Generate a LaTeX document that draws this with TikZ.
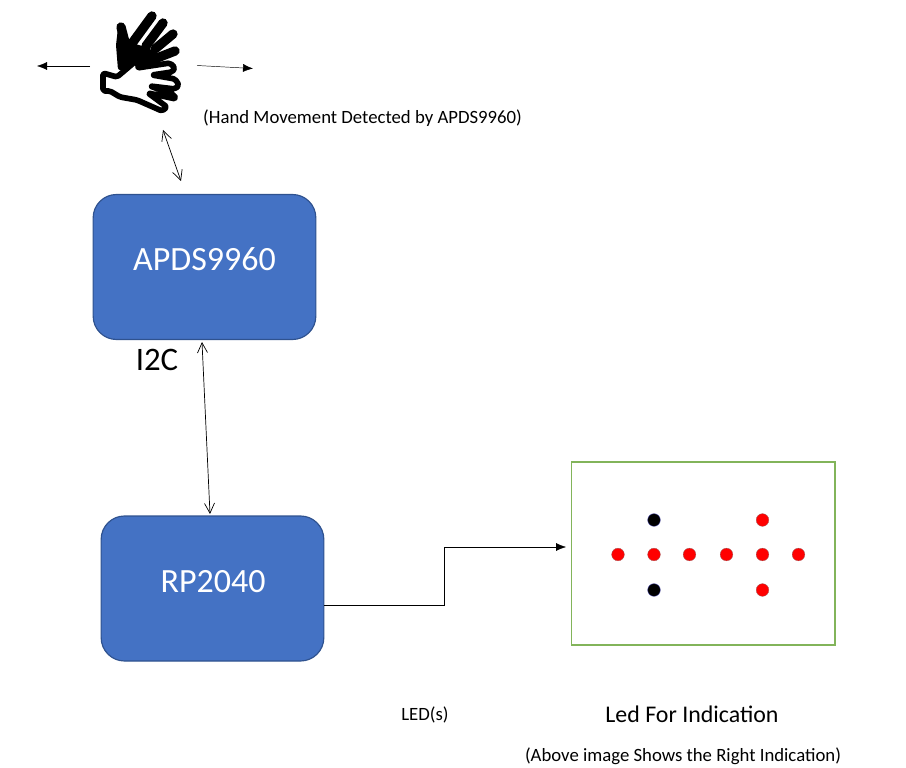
\documentclass[tikz,border=0pt]{standalone}
\usepackage{fontspec}
\usepackage{tikz}
\setmainfont{Carlito}
\usetikzlibrary{arrows.meta}

\definecolor{boxblue}{RGB}{68,114,196}
\definecolor{boxedge}{RGB}{47,82,143}
\definecolor{ledgreen}{RGB}{130,180,90}

\tikzset{
  blockbox/.style={draw=boxedge, line width=1pt, fill=boxblue, rounded corners=0.7cm, text=white, minimum width=6.68cm, minimum height=4.35cm},
  boxlabel/.style={inner sep=0pt, text=white, font=\fontsize{29}{34}\selectfont},
  lbl/.style={inner sep=0pt, font=\fontsize{16}{19}\selectfont},
  redled/.style={circle, fill=red, draw=gray!70!red, line width=0.3pt, inner sep=0pt, minimum size=0.38cm},
  blackled/.style={circle, fill=black, draw=gray!60!blue, line width=0.3pt, inner sep=0pt, minimum size=0.38cm},
  thinarrow/.style={-{Latex[length=0.3cm,width=0.24cm]}, line width=0.4pt},
  openboth/.style={{Straight Barb[length=0.3cm,width=0.3cm]}-{Straight Barb[length=0.3cm,width=0.3cm]}, line width=0.6pt},
  finger/.style={line width=0.28cm, line cap=round}
}

\begin{document}
\begin{tikzpicture}[x=0.03cm,y=-0.03cm]
\useasboundingbox (0,0) rectangle (906,768);

\node[blockbox] (apds) at (204.5,267) {};
\node[boxlabel] (apdstxt) at (204.5,259.5) {APDS9960};
\node[blockbox] (rp) at (212.5,588.5) {};
\node[boxlabel] (rptxt) at (213,581.5) {RP2040};
\node[draw=ledgreen, line width=1.4pt, minimum width=7.9cm, minimum height=5.5cm, inner sep=0pt] (panel) at (703,553.5) {};

% leds, middle row first
\node[redled] (m1) at (618,554.5) {};
\node[redled] (m2) at (654,554.5) {};
\node[redled] (m3) at (689.5,554.5) {};
\node[redled] (m4) at (726.5,554.5) {};
\node[redled] (m5) at (762.5,554.5) {};
\node[redled] (m6) at (798.5,554.5) {};
\node[blackled] (t1) at (654,520) {};
\node[blackled] (b1) at (654,590) {};
\node[redled] (t2) at (762.5,520) {};
\node[redled] (b2) at (762.5,590) {};

% hand, dark one behind
\fill[rounded corners=2pt] (118,28) -- (128,42) -- (146,47) -- (160,55) -- (155,66) -- (135,72) -- (118,70) -- (116,45) -- cycle;
\draw[finger] (127,50) -- (121,27);
\draw[finger] (133,42) -- (152,16);
\draw[finger] (146,46) -- (163,23);
\draw[finger] (155,49) -- (173,34);
\draw[finger] (152,60) -- (175,51);
\draw[fill=white, line width=0.17cm, line join=round, rounded corners=1.5pt]
  (103,73) -- (117,77) -- (143,55) -- (137,68) -- (170,63) -- (175,68) -- (172,72) -- (152,75) -- (175,79) -- (179,85) -- (175,89) -- (150,86) -- (174,95) -- (176,99) -- (148,93) -- (167,107) -- (162,111) -- (137,100) -- (120,97) -- (110,91) -- (103,91) -- cycle;

\coordinate (hl) at (90,66);
\coordinate (al) at (37,66);
\coordinate (hr) at (197,65.5);
\coordinate (ar) at (253,68.5);
\coordinate (hb) at (163,130);
\coordinate (ab) at (181,181);
\coordinate (tt) at (202,342);
\coordinate (tb) at (210,514);
\coordinate (lin) at (566,547);

\draw[thinarrow] (hl) -- (al);
\draw[thinarrow] (hr) -- (ar);
\draw[openboth] (hb) -- (ab);
\draw[openboth] (tt) -- (tb);
\draw[thinarrow] (rp.east |- 0,605) -- (444,605) -- (444,547) -- (lin);

\node[lbl, anchor=west] (handtxt) at (203,118) {(Hand Movement Detected by APDS9960)};
\node[inner sep=0pt, font=\fontsize{28}{33}\selectfont] (i2c) at (157,360) {I2C};
\node[lbl] (ledtxt) at (425,715) {LED(s)};
\node[inner sep=0pt, font=\fontsize{20.4}{24}\selectfont] (indtxt) at (692,714) {Led For Indication};
\node[lbl] (righttxt) at (683,756) {(Above image Shows the Right Indication)};

\end{tikzpicture}
\end{document}
